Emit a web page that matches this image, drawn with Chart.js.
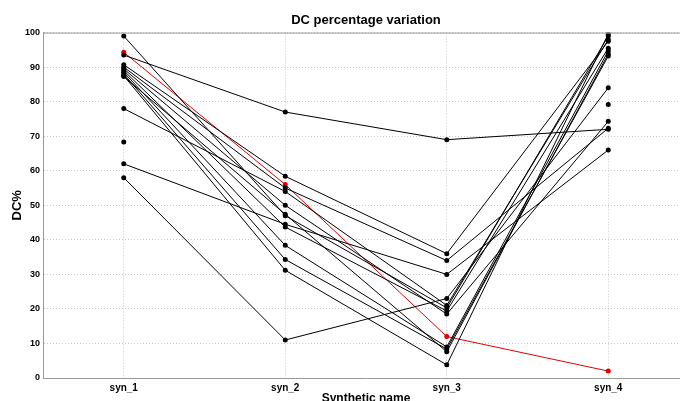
<!DOCTYPE html>
<html>
<head>
<meta charset="utf-8">
<script src="https://cdn.jsdelivr.net/npm/chart.js@4.4.1/dist/chart.umd.min.js"></script>
<style>
  html, body { margin: 0; padding: 0; overflow: hidden; background: #fff; }
  #wrap { position: relative; width: 693px; height: 406px; }
</style>
</head>
<body>
<div id="wrap"><canvas id="plot1"></canvas></div>
<script>
//Categorias del eje x
let categorias = ['syn_1', 'syn_2', 'syn_3', 'syn_4'];

//Valores DC% por serie (syn_1 .. syn_4)
let serie1  = [99, 47, 20.3, 99];
let serie2  = [93.5, 77, 69, 72];
let serie3  = [78, 54, 21, 98];
let serie4  = [62, 44.5, 30, 66];
let serie5  = [58, 11, 23, 84];
let serie6  = [90.7, 58.4, 36, 97.5];
let serie7  = [90, 55, 34, 72.3];
let serie8  = [89.5, 50, 18.5, 74.3];
let serie9  = [89, 43.7, 19.4, 95.5];
let serie10 = [88.5, 38.4, 9, 94.7];
let serie11 = [88, 34.3, 8.4, 93.2];
let serie12 = [87.5, 31.2, 3.8, 99.6];
let serie13 = [87.3, 47.4, 7.6, 93.8];
let serieRoja   = [94.3, 56, 12, 2];
//Puntos sueltos sin linea
let serieSuelta = [68.3, null, null, 79.2];

let seriesNegras = [serie1, serie2, serie3, serie4, serie5, serie6, serie7,
                    serie8, serie9, serie10, serie11, serie12, serie13];

let fuente = "'Liberation Sans', Arial, sans-serif";

let datasets = seriesNegras.map(d => ({
  data: d,
  borderColor: '#000',
  backgroundColor: '#000',
  borderWidth: 1,
  pointRadius: 2.5,
  pointBorderWidth: 0
}));

datasets.push({
  data: serieRoja,
  borderColor: '#e00000',
  backgroundColor: '#e00000',
  borderWidth: 1,
  pointRadius: 2.5,
  pointBorderWidth: 0
});

datasets.push({
  data: serieSuelta,
  showLine: false,
  spanGaps: false,
  borderColor: '#000',
  backgroundColor: '#000',
  pointRadius: 2.5,
  pointBorderWidth: 0
});

//Marco superior del area del grafico
let marco = {
  id: 'marco',
  afterDraw: (chart) => {
    let {ctx, chartArea} = chart;
    ctx.save();
    ctx.strokeStyle = '#999';
    ctx.lineWidth = 1;
    ctx.beginPath();
    ctx.moveTo(chartArea.left, chartArea.top + 0.5);
    ctx.lineTo(chartArea.right, chartArea.top + 0.5);
    ctx.stroke();
    ctx.restore();
  }
};

let config = {
  type: 'line',
  data: {
    labels: categorias,
    datasets: datasets
  },
  options: {
    responsive: true,
    maintainAspectRatio: false,
    animation: false,
    layout: { padding: { top: 0, right: 0, left: 0, bottom: 0 } },
    plugins: {
      legend: { display: false },
      tooltip: { enabled: false },
      title: {
        display: true,
        text: 'DC percentage variation',
        fullSize: false,
        color: '#000',
        font: { family: fuente, size: 13, weight: 'bold' },
        padding: { top: 13, bottom: 4 }
      }
    },
    scales: {
      x: {
        offset: true,
        grid: { offset: false, color: '#c8c8c8', drawTicks: false },
        border: { color: '#999', dash: [1, 2] },
        ticks: { color: '#000', padding: 4, font: { family: fuente, size: 10, weight: 'bold' } },
        title: {
          display: true,
          text: 'Synthetic name',
          color: '#000',
          padding: 0,
          font: { family: fuente, size: 12, weight: 'bold' }
        },
        afterFit: (scale) => { scale.height = 28; }
      },
      y: {
        min: 0,
        max: 100,
        grid: { color: '#c8c8c8', drawTicks: false },
        border: { color: '#999', dash: [1, 2] },
        ticks: { stepSize: 10, color: '#000', padding: 3, font: { family: fuente, size: 9, weight: 'bold' } },
        title: {
          display: true,
          text: 'DC%',
          color: '#000',
          padding: { top: 10, bottom: 0 },
          font: { family: fuente, size: 13, weight: 'bold' }
        },
        afterFit: (scale) => { scale.width = 43; }
      }
    }
  },
  plugins: [marco]
};

let plotRef = document.getElementById('plot1');
let chart1 = new Chart(plotRef, config);
</script>
</body>
</html>
